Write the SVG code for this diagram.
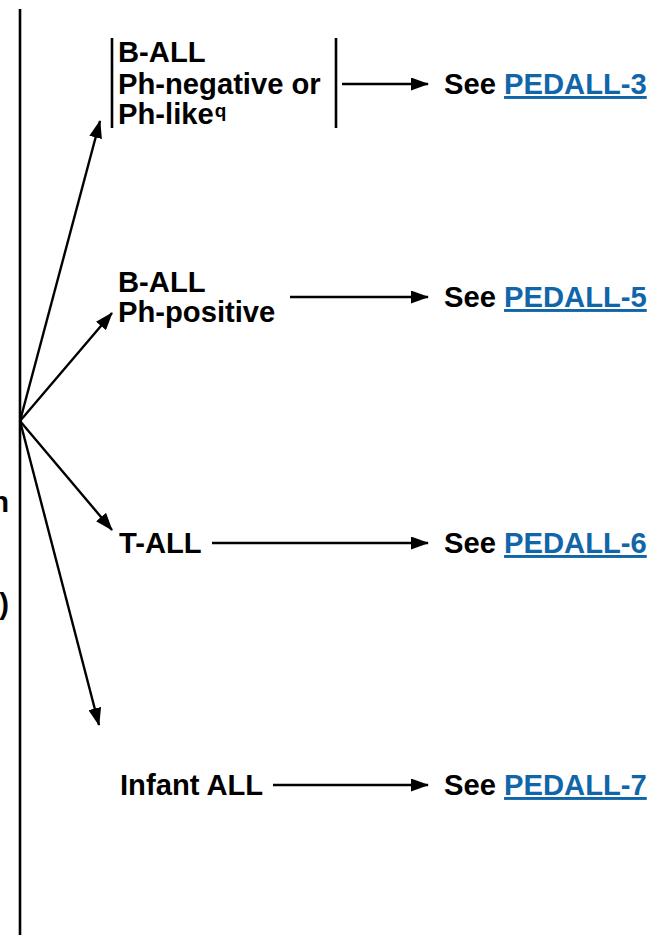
<svg xmlns="http://www.w3.org/2000/svg" width="652" height="935" viewBox="0 0 652 935">
<defs>
<marker id="ah" markerWidth="18" markerHeight="13" refX="17" refY="6.5" orient="auto" markerUnits="userSpaceOnUse">
<path d="M0,0 L18,6.5 L0,13 Z" fill="#000"/>
</marker>
<style>
.t{font-family:"Liberation Sans",Arial,sans-serif;font-weight:bold;font-size:29.2px;fill:#000}
.lk{fill:#1066a8;text-decoration:underline}
.sup{font-size:19px}
.ar{stroke:#000;stroke-width:2.4;fill:none;marker-end:url(#ah)}
.bar{stroke:#000;stroke-width:2.6}
</style>
</defs>
<rect width="652" height="935" fill="#fff"/>
<g id="left-clipped">
<text class="t" x="9" y="512" text-anchor="end">n</text>
<text class="t" x="9" y="614" text-anchor="end">)</text>
</g>
<g id="trunk">
<line class="bar" x1="20" y1="9" x2="20" y2="935"/>
</g>
<g id="node-ball-neg">
<line class="bar" x1="112" y1="38" x2="112" y2="128"/>
<line class="bar" x1="336" y1="38" x2="336" y2="128"/>
<text class="t" x="118" y="62">B-ALL</text>
<text class="t" x="118" y="94">Ph-negative or</text>
<text class="t" x="118" y="124">Ph-like<tspan class="sup" dx="1" dy="-7">q</tspan></text>
</g>
<g id="node-ball-pos">
<text class="t" x="118" y="292">B-ALL</text>
<text class="t" x="118" y="322">Ph-positive</text>
</g>
<g id="node-tall">
<text class="t" x="119" y="553">T-ALL</text>
</g>
<g id="node-infant">
<text class="t" x="120" y="795">Infant ALL</text>
</g>
<g id="see3"><text class="t" x="444" y="94">See <tspan class="lk">PEDALL-3</tspan></text></g>
<g id="see5"><text class="t" x="444" y="307">See <tspan class="lk">PEDALL-5</tspan></text></g>
<g id="see6"><text class="t" x="444" y="553">See <tspan class="lk">PEDALL-6</tspan></text></g>
<g id="see7"><text class="t" x="444" y="795">See <tspan class="lk">PEDALL-7</tspan></text></g>
<g id="connectors">
<line class="ar" x1="20" y1="421" x2="100" y2="121"/>
<line class="ar" x1="20" y1="421" x2="112" y2="313"/>
<line class="ar" x1="20" y1="421" x2="112" y2="530"/>
<line class="ar" x1="20" y1="421" x2="99" y2="725"/>
<line class="ar" x1="342" y1="84" x2="428" y2="84"/>
<line class="ar" x1="290" y1="297" x2="428" y2="297"/>
<line class="ar" x1="212" y1="543" x2="428" y2="543"/>
<line class="ar" x1="273" y1="785" x2="428" y2="785"/>
</g>
</svg>
